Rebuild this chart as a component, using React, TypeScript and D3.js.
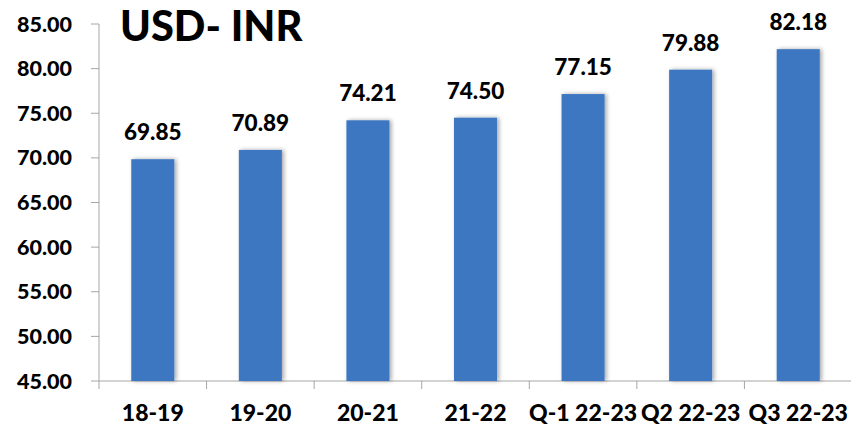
import React, { useRef, useEffect } from 'react';
import * as d3 from 'd3';

const categories = ['18-19', '19-20', '20-21', '21-22', 'Q-1 22-23', 'Q2 22-23', 'Q3 22-23'];
const rates = [69.85, 70.89, 74.21, 74.5, 77.15, 79.88, 82.18];
const yTicks = [45, 50, 55, 60, 65, 70, 75, 80, 85];

const W = 851;
const H = 429;
const FONT = 'Lato, "Open Sans", sans-serif';

const App: React.FC = () => {
  const ref = useRef<SVGSVGElement>(null);

  useEffect(() => {
    const svg = d3.select(ref.current);
    svg.selectAll('*').remove();

    const left = 99, right = 852, top = 24, bottom = 381;

    const x = d3.scaleBand<string>().domain(categories).range([left, right]).paddingInner(0.6).paddingOuter(0.3);
    const xTick = d3.scaleBand<string>().domain(categories).range([left, right]);
    const y = d3.scaleLinear().domain([45, 85]).range([bottom, top]);

    const defs = svg.append('defs');
    const f = defs.append('filter').attr('id', 'shadow').attr('x', '-20%').attr('width', '140%');
    f.append('feDropShadow').attr('dx', 2).attr('dy', 0).attr('stdDeviation', 2)
      .attr('flood-color', '#000').attr('flood-opacity', 0.35);

    // y axis
    svg.append('line').attr('x1', left).attr('x2', left).attr('y1', y(85)).attr('y2', bottom)
      .attr('stroke', '#a6a6a6').attr('stroke-width', 1);
    yTicks.forEach(t => {
      svg.append('line').attr('x1', left - 8).attr('x2', left).attr('y1', y(t)).attr('y2', y(t))
        .attr('stroke', '#a6a6a6');
      svg.append('text').attr('x', 72).attr('y', y(t)).attr('dy', '0.35em')
        .attr('text-anchor', 'end').attr('font-family', FONT).attr('font-weight', 900)
        .attr('font-size', 21.5).attr('fill', '#000').text(t.toFixed(2));
    });

    // x axis
    svg.append('line').attr('x1', left).attr('x2', right).attr('y1', bottom).attr('y2', bottom)
      .attr('stroke', '#a6a6a6');
    categories.forEach(c => {
      const tx = (xTick(c) as number);
      svg.append('line').attr('x1', tx).attr('x2', tx).attr('y1', bottom).attr('y2', bottom + 8)
        .attr('stroke', '#a6a6a6');
    });
    svg.append('g').selectAll('text').data(categories).enter().append('text')
      .attr('x', d => (x(d) as number) + x.bandwidth() / 2)
      .attr('y', 421)
      .attr('text-anchor', 'middle').attr('font-family', FONT).attr('font-weight', 900)
      .attr('font-size', 23).attr('fill', '#000').text(d => d);

    // bars
    const data = categories.map((c, i) => ({ c, v: rates[i] }));
    svg.append('g').selectAll('rect').data(data).enter().append('rect')
      .attr('x', d => x(d.c) as number)
      .attr('y', d => y(d.v))
      .attr('width', x.bandwidth())
      .attr('height', d => bottom - y(d.v))
      .attr('fill', '#3d77c2')
      .attr('filter', 'url(#shadow)');

    svg.append('g').selectAll('text').data(data).enter().append('text')
      .attr('x', d => (x(d.c) as number) + x.bandwidth() / 2)
      .attr('y', d => y(d.v) - 19)
      .attr('text-anchor', 'middle').attr('font-family', FONT).attr('font-weight', 900)
      .attr('font-size', 22.5).attr('fill', '#000').text(d => d.v.toFixed(2));

    svg.append('text').attr('x', 120).attr('y', 41)
      .attr('font-family', FONT).attr('font-weight', 900).attr('font-size', 41.5)
      .attr('fill', '#000').text('USD- INR');
  }, []);

  return (
    <svg ref={ref} width={W} height={H}
      style={{ position: 'absolute', left: 0, top: 0, background: '#fff' }} />
  );
};

export default App;
